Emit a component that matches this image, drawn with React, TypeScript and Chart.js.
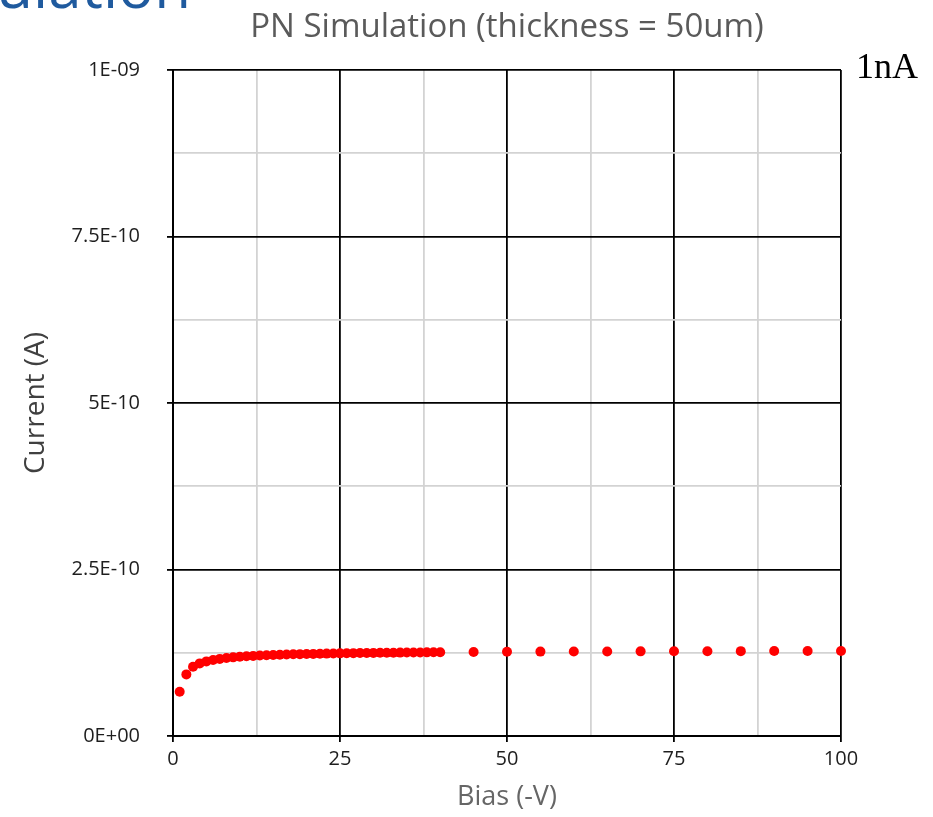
import React, { useEffect, useRef } from 'react';
import { Chart, registerables } from 'chart.js';

Chart.register(...registerables);

const biasV = [
  1, 2, 3, 4, 5, 6, 7, 8, 9, 10,
  11, 12, 13, 14, 15, 16, 17, 18, 19, 20,
  21, 22, 23, 24, 25, 26, 27, 28, 29, 30,
  31, 32, 33, 34, 35, 36, 37, 38, 39, 40,
  45, 50, 55, 60, 65, 70, 75, 80, 85, 90, 95, 100,
];

const currentA = [
  6.65e-11, 9.25e-11, 1.04e-10, 1.09e-10, 1.12e-10, 1.142e-10, 1.158e-10, 1.171e-10, 1.181e-10, 1.19e-10,
  1.197e-10, 1.203e-10, 1.208e-10, 1.213e-10, 1.217e-10, 1.221e-10, 1.224e-10, 1.227e-10, 1.229e-10, 1.231e-10,
  1.233e-10, 1.235e-10, 1.237e-10, 1.239e-10, 1.241e-10, 1.242e-10, 1.244e-10, 1.245e-10, 1.246e-10, 1.248e-10,
  1.249e-10, 1.25e-10, 1.251e-10, 1.252e-10, 1.253e-10, 1.254e-10, 1.255e-10, 1.256e-10, 1.257e-10, 1.258e-10,
  1.262e-10, 1.265e-10, 1.267e-10, 1.269e-10, 1.27e-10, 1.271e-10, 1.272e-10, 1.273e-10, 1.274e-10, 1.275e-10, 1.276e-10, 1.277e-10,
];

const xTickLabels = ['0', '25', '50', '75', '100'];
const yTickLabels = ['0E+00', '2.5E-10', '5E-10', '7.5E-10', '1E-09'];

const chartTitle = 'PN Simulation (thickness = 50um)';
const xAxisTitle = 'Bias (-V)';
const yAxisTitle = 'Current (A)';
const unitNote = '1nA';
const slideHeading = 'Simulation';

const SANS = "'Open Sans', 'Noto Sans', sans-serif";

const textPlugin = {
  id: 'extraText',
  afterDraw(chart: any) {
    const { ctx, chartArea } = chart;
    ctx.save();
    // cut-off slide heading at top-left
    ctx.fillStyle = '#1f5a9e';
    ctx.font = `60px ${SANS}`;
    ctx.textAlign = 'right';
    ctx.textBaseline = 'alphabetic';
    ctx.fillText(slideHeading, 191, 8);
    // chart title
    ctx.fillStyle = '#5a5a5a';
    ctx.font = `33px ${SANS}`;
    ctx.textAlign = 'center';
    ctx.fillText(chartTitle, (chartArea.left + chartArea.right) / 2, 37);
    // unit note
    ctx.fillStyle = '#000';
    ctx.font = "36px 'Liberation Serif', 'DejaVu Serif', serif";
    ctx.textAlign = 'left';
    ctx.fillText(unitNote, 856, 78);
    ctx.restore();
  },
};

export default function App() {
  const ref = useRef<HTMLCanvasElement | null>(null);

  useEffect(() => {
    if (!ref.current) return;
    const points = biasV.map((x, i) => ({ x, y: currentA[i] }));
    const majorColor = (c: any) => (c.index % 2 === 0 ? '#000000' : '#d3d3d3');
    const tickColor = (c: any) => (c.index % 2 === 0 ? '#000000' : 'rgba(0,0,0,0)');

    const chart = new Chart(ref.current, {
      type: 'scatter',
      data: {
        datasets: [
          {
            label: 'I',
            data: points,
            backgroundColor: '#ff0000',
            borderColor: '#ff0000',
            borderWidth: 0,
            pointRadius: 5,
            pointHoverRadius: 5,
            showLine: false,
            clip: false,
          } as any,
        ],
      },
      options: {
        responsive: false,
        animation: false,
        devicePixelRatio: 1,
        layout: { padding: { top: 70, right: 92, left: 0, bottom: 0 } },
        plugins: {
          legend: { display: false },
          tooltip: { enabled: false },
          title: { display: false },
        },
        scales: {
          x: {
            type: 'linear',
            min: 0,
            max: 100,
            afterFit: (s: any) => {
              s.height = 81;
            },
            ticks: {
              stepSize: 12.5,
              autoSkip: false,
              maxRotation: 0,
              padding: 5,
              color: '#1e1e1e',
              font: { family: SANS, size: 20 },
              callback: (_v: any, i: number) => (i % 2 === 0 ? xTickLabels[i / 2] : ''),
            },
            grid: {
              color: majorColor,
              tickColor: tickColor,
              lineWidth: 1.8,
              tickLength: 6,
              drawTicks: true,
            },
            border: { display: true, color: '#000000', width: 2 },
            title: {
              display: true,
              text: xAxisTitle,
              color: '#666666',
              font: { family: SANS, size: 27 },
              padding: { top: 0, bottom: 3 },
            },
          },
          y: {
            type: 'linear',
            min: 0,
            max: 1e-9,
            afterFit: (s: any) => {
              s.width = 173;
            },
            ticks: {
              stepSize: 1.25e-10,
              autoSkip: false,
              padding: 27,
              color: '#1e1e1e',
              font: { family: SANS, size: 20 },
              callback: (_v: any, i: number) => (i % 2 === 0 ? yTickLabels[i / 2] : ''),
            },
            grid: {
              color: majorColor,
              tickColor: tickColor,
              lineWidth: 1.8,
              tickLength: 6,
              drawTicks: true,
            },
            border: { display: true, color: '#000000', width: 2 },
            title: {
              display: true,
              text: yAxisTitle,
              color: '#404040',
              font: { family: SANS, size: 28 },
              padding: { top: 19, bottom: 0 },
            },
          },
        },
      } as any,
      plugins: [textPlugin],
    });

    return () => chart.destroy();
  }, []);

  return (
    <div style={{ position: 'absolute', left: 0, top: 0, width: 933, height: 817, background: '#fff' }}>
      <canvas ref={ref} width={933} height={817} style={{ display: 'block' }} />
    </div>
  );
}
